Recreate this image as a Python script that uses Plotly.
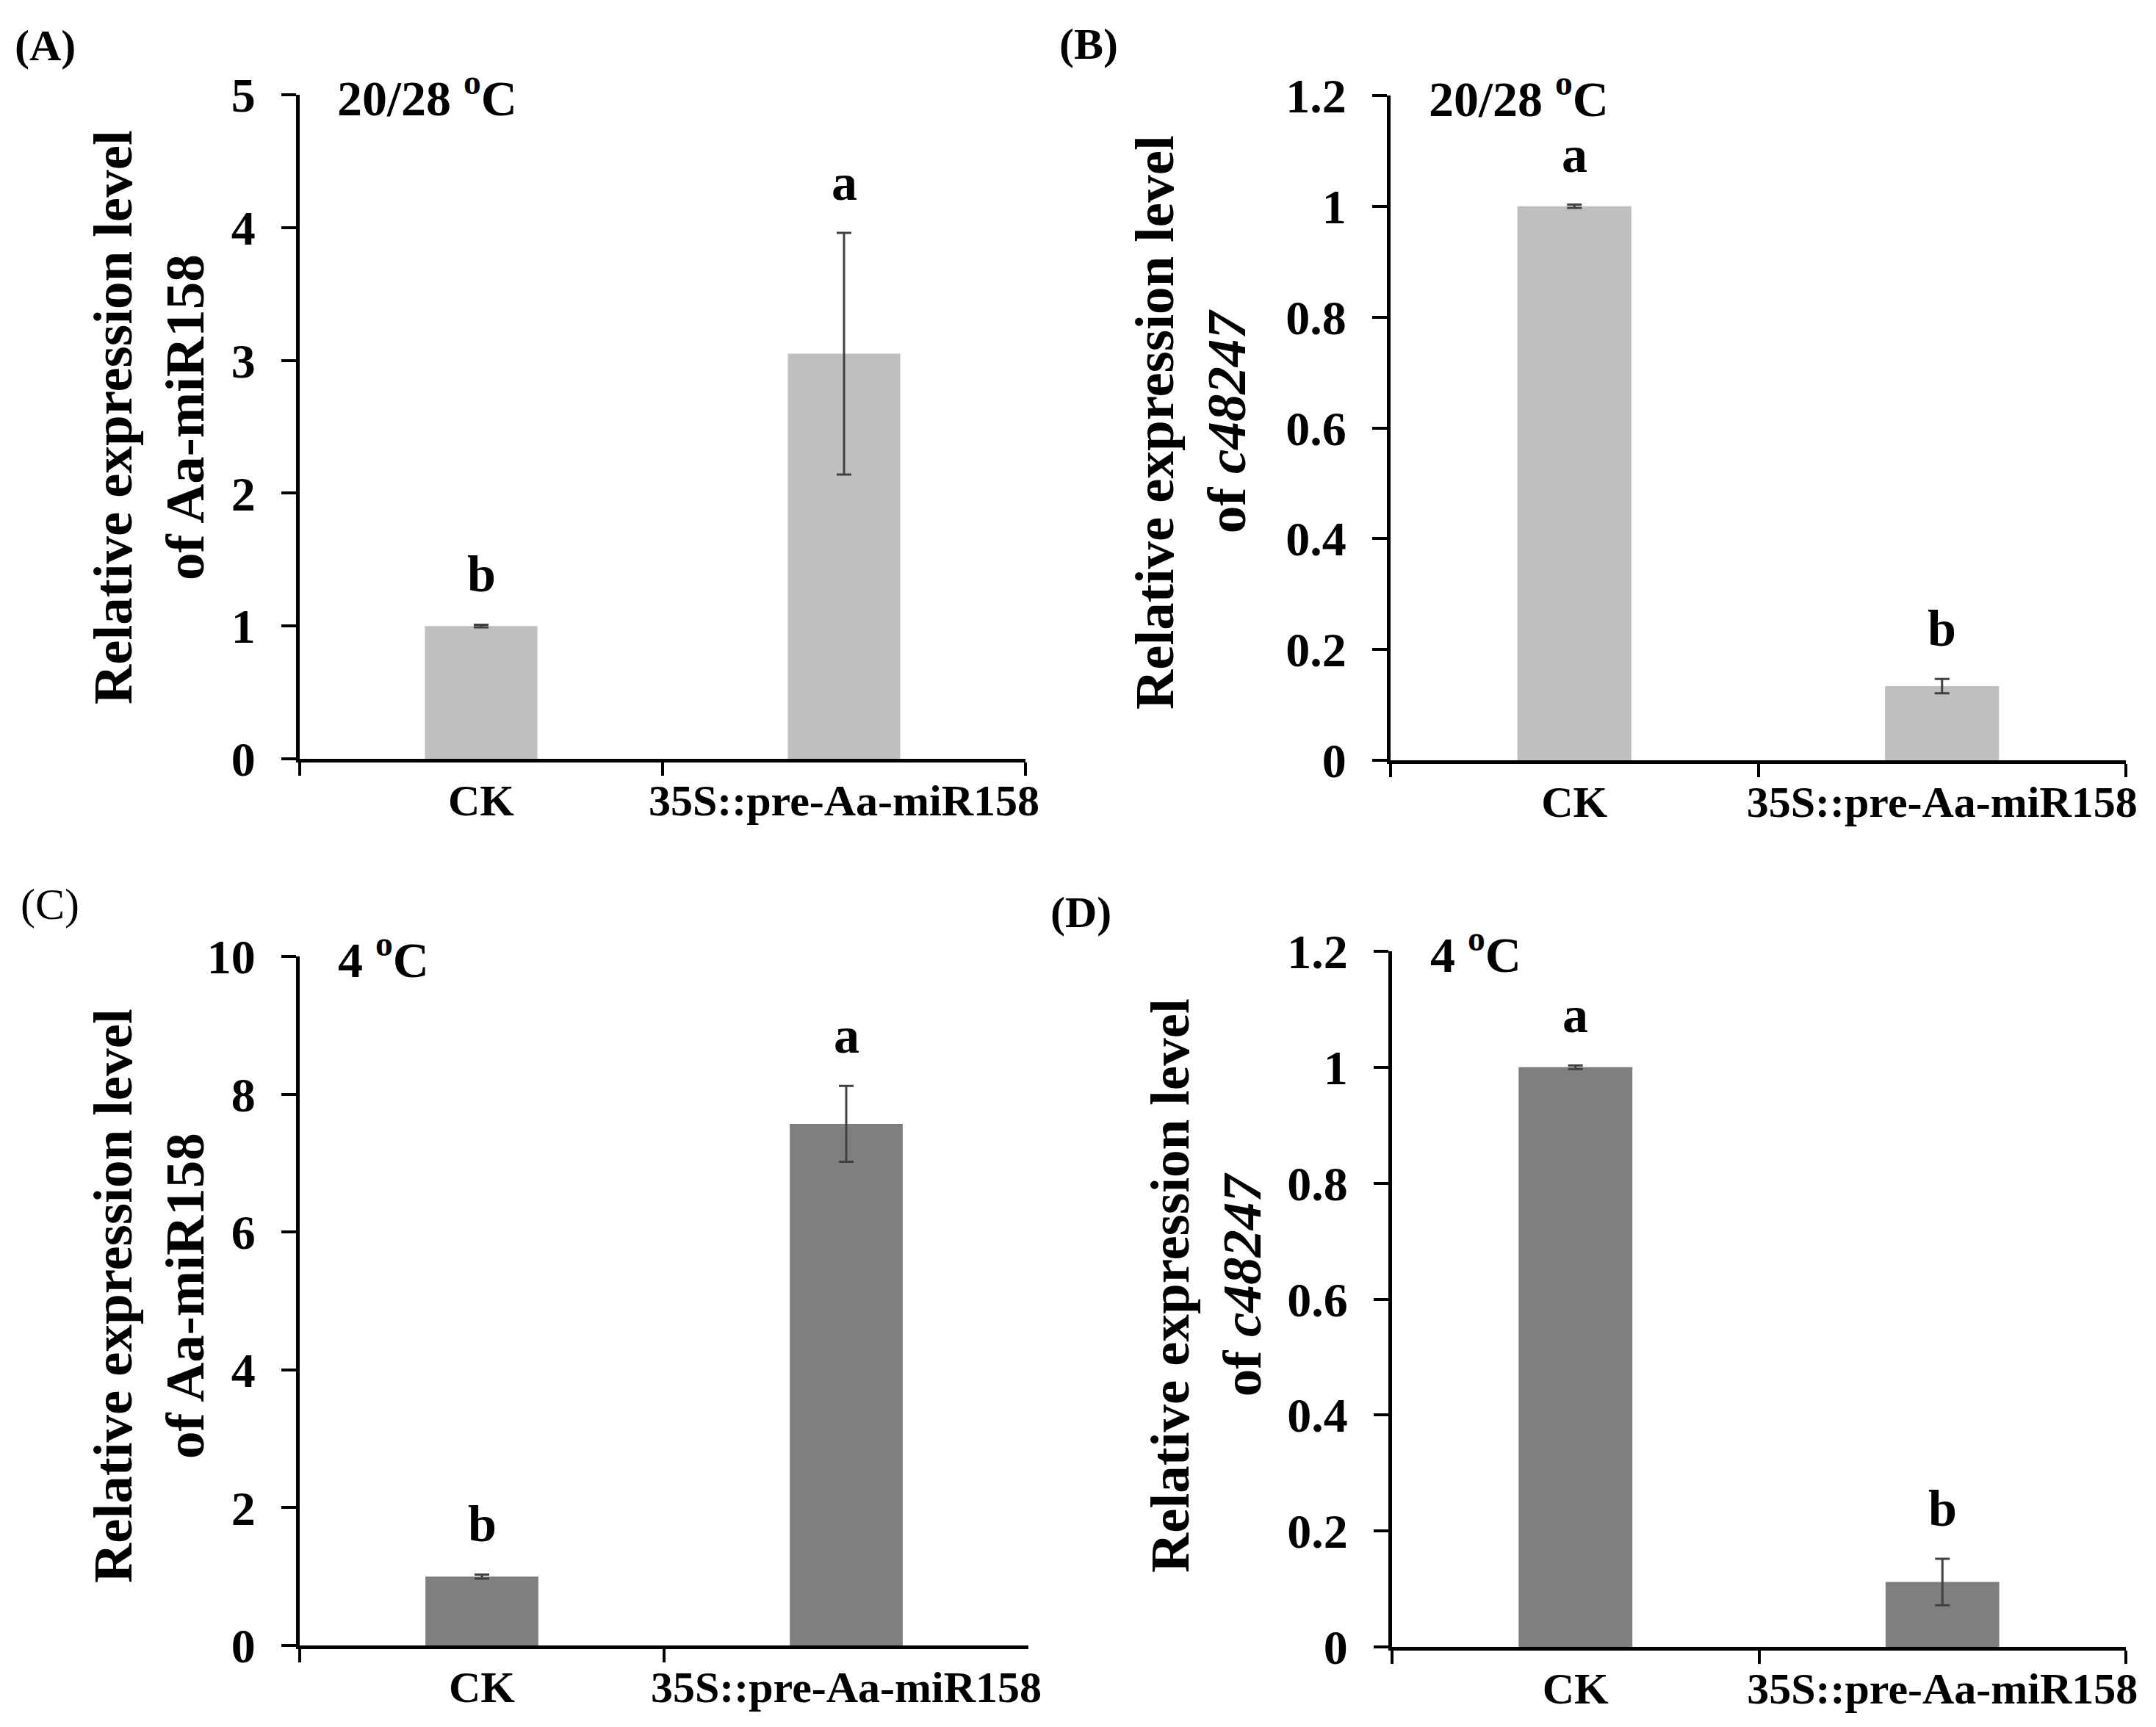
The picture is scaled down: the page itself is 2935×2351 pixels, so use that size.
import plotly.graph_objects as go

# categories shared by every panel
categories = ["CK", "35S::pre-Aa-miR158"]

# (A) Aa-miR158 at 20/28 C
mir158_warm = [1.0, 3.05]
mir158_warm_err = [0.01, 0.91]
mir158_warm_letters = ["b", "a"]

# (B) c48247 at 20/28 C
c48247_warm = [1.0, 0.134]
c48247_warm_err = [0.003, 0.013]
c48247_warm_letters = ["a", "b"]

# (C) Aa-miR158 at 4 C
mir158_cold = [1.0, 7.57]
mir158_cold_err = [0.03, 0.55]
mir158_cold_letters = ["b", "a"]

# (D) c48247 at 4 C
c48247_cold = [1.0, 0.112]
c48247_cold_err = [0.003, 0.04]
c48247_cold_letters = ["a", "b"]

y_ranges = [[0, 5], [0, 1.2], [0, 10], [0, 1.2]]
y_dticks = [1, 0.2, 2, 0.2]

FONT = "Liberation Serif"
W, H = 2935, 2351

panels = [
    dict(tag="(A)", vals=mir158_warm, err=mir158_warm_err, letters=mir158_warm_letters,
         temp="20/28 <sup>o</sup>C", title="Relative expression level<br>of Aa-miR158",
         color="#BFBFBF", xd=[408 / W, 1396 / W], yd=[1 - 1033 / H, 1 - 129 / H],
         tag_xy=(18, 62), title_xy=(202, 568), tag_bold=True),
    dict(tag="(B)", vals=c48247_warm, err=c48247_warm_err, letters=c48247_warm_letters,
         temp="20/28 <sup>o</sup>C", title="Relative expression level<br>of <i>c48247</i>",
         color="#BFBFBF", xd=[1893 / W, 2894 / W], yd=[1 - 1035 / H, 1 - 130 / H],
         tag_xy=(1440, 60), title_xy=(1620, 575), tag_bold=True),
    dict(tag="(C)", vals=mir158_cold, err=mir158_cold_err, letters=mir158_cold_letters,
         temp="4 <sup>o</sup>C", title="Relative expression level<br>of Aa-miR158",
         color="#7F7F7F", xd=[408 / W, 1400 / W], yd=[1 - 2240 / H, 1 - 1302 / H],
         tag_xy=(26, 1231), title_xy=(202, 1764), tag_bold=False),
    dict(tag="(D)", vals=c48247_cold, err=c48247_cold_err, letters=c48247_cold_letters,
         temp="4 <sup>o</sup>C", title="Relative expression level<br>of <i>c48247</i>",
         color="#7F7F7F", xd=[1895 / W, 2894 / W], yd=[1 - 2242 / H, 1 - 1295 / H],
         tag_xy=(1428, 1242), title_xy=(1641, 1750), tag_bold=True),
]

fig = go.Figure()
annotations = []

for i, p in enumerate(panels):
    n = "" if i == 0 else str(i + 1)
    fig.add_trace(go.Bar(
        x=categories, y=p["vals"],
        marker=dict(color=p["color"], line=dict(width=0)),
        error_y=dict(type="data", array=p["err"], color="#404040", thickness=3, width=10),
        width=0.31, xaxis="x" + n, yaxis="y" + n, showlegend=False,
    ))

    fig.update_layout({
        "xaxis" + n: dict(
            domain=p["xd"], anchor="y" + n, type="category", automargin=False,
            showline=True, linecolor="black", linewidth=5,
            ticks="outside", tickson="boundaries", ticklen=18, tickwidth=4, tickcolor="black",
            tickangle=0, showgrid=False, zeroline=False,
            tickfont=dict(family=FONT, size=60, color="black", weight="bold"),
        ),
        "yaxis" + n: dict(
            domain=p["yd"], anchor="x" + n, range=y_ranges[i], dtick=y_dticks[i],
            automargin=False,
            showline=True, linecolor="black", linewidth=5,
            ticks="outside", ticklen=20, tickwidth=4, tickcolor="black",
            ticklabelstandoff=22,
            showgrid=False, zeroline=False,
            tickfont=dict(family=FONT, size=66, color="black", weight="bold"),
        ),
    })

    # significance letters above error bars
    for cat, v, e, letter in zip(categories, p["vals"], p["err"], p["letters"]):
        annotations.append(dict(
            x=cat, y=v + e, xref="x" + n, yref="y" + n, text=letter,
            showarrow=False, yanchor="bottom", yshift=28,
            font=dict(family=FONT, size=70, color="black", weight="bold"),
        ))

    # temperature label
    annotations.append(dict(
        x=0.05, y=1.0, xref="x" + n + " domain", yref="y" + n + " domain",
        text=p["temp"], showarrow=False, xanchor="left", yanchor="middle",
        font=dict(family=FONT, size=68, color="black", weight="bold"),
    ))

    # y axis title (two lines)
    annotations.append(dict(
        x=p["title_xy"][0] / W, y=1 - p["title_xy"][1] / H, xref="paper", yref="paper",
        text=p["title"], showarrow=False, textangle=-90,
        xanchor="center", yanchor="middle",
        font=dict(family=FONT, size=75, color="black", weight="bold"),
    ))

    # panel tag
    annotations.append(dict(
        x=p["tag_xy"][0] / W, y=1 - p["tag_xy"][1] / H, xref="paper", yref="paper",
        text=p["tag"], showarrow=False, xanchor="left", yanchor="middle",
        font=dict(family=FONT, size=60, color="black",
                  weight="bold" if p["tag_bold"] else "normal"),
    ))

fig.update_layout(
    width=W, height=H,
    margin=dict(l=0, r=0, t=0, b=0),
    plot_bgcolor="white", paper_bgcolor="white",
    annotations=annotations,
)

# drop the default page margin so the figure sits at the window's top-left corner
fig.write_html("out.html", config={"displayModeBar": False},
               post_script="document.body.style.margin = '0';")
